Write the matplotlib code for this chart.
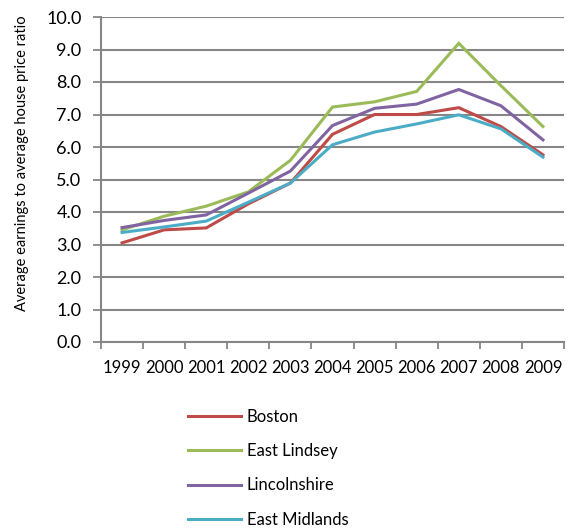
import matplotlib
matplotlib.use("Agg")
import matplotlib.pyplot as plt
from matplotlib.ticker import FixedLocator, NullFormatter

plt.rcParams['font.family'] = ['Lato', 'DejaVu Sans']

years = ["1999", "2000", "2001", "2002", "2003", "2004",
         "2005", "2006", "2007", "2008", "2009"]
boston = [3.05, 3.45, 3.51, 4.25, 4.89, 6.39, 7.00, 7.00, 7.21, 6.63, 5.76]
east_lindsey = [3.45, 3.87, 4.18, 4.62, 5.59, 7.23, 7.39, 7.71, 9.19, 7.89, 6.63]
lincolnshire = [3.52, 3.74, 3.91, 4.58, 5.26, 6.66, 7.19, 7.32, 7.77, 7.27, 6.22]
east_midlands = [3.37, 3.54, 3.72, 4.30, 4.89, 6.07, 6.46, 6.71, 6.99, 6.56, 5.69]

series = [
    ("Boston", boston, "#BE4B48"),
    ("East Lindsey", east_lindsey, "#9BBB59"),
    ("Lincolnshire", lincolnshire, "#8064A2"),
    ("East Midlands", east_midlands, "#4BACC6"),
]

W, H = 568, 530
fig = plt.figure(figsize=(W / 100, H / 100), dpi=100)
ax = fig.add_axes([101 / W, 1 - 342 / H, (564 - 101) / W, (342 - 17) / H])

x = list(range(len(years)))
handles = []
for name, vals, col in series:
    h, = ax.plot(x, vals, color=col, lw=2.2, label=name, solid_joinstyle='miter')
    handles.append(h)

grey = "#868686"
ax.set_ylim(0, 10)
ax.set_yticks([i for i in range(11)])
ax.set_yticklabels([f"{i:.1f}" for i in range(11)])
ax.yaxis.grid(True, color=grey, lw=1.5)
ax.set_axisbelow(True)

ax.set_xlim(-0.5, len(years) - 0.5)
ax.set_xticks(x)
ax.set_xticklabels(years)
ax.xaxis.set_minor_locator(FixedLocator([i - 0.5 for i in range(len(years) + 1)]))
ax.xaxis.set_minor_formatter(NullFormatter())
ax.tick_params(axis='x', which='major', length=0, pad=13, labelsize=12, colors='black')
ax.tick_params(axis='x', which='minor', length=5, width=1.3, color=grey)
ax.tick_params(axis='y', length=6, width=1.3, color=grey, labelsize=13, pad=8)

for s in ("top", "right"):
    ax.spines[s].set_visible(False)
for s in ("left", "bottom"):
    ax.spines[s].set_color(grey)
    ax.spines[s].set_linewidth(1.5)

fig.text(22 / W, 1 - 163 / H, "Average earnings to average house price ratio",
         rotation=90, ha="center", va="center", fontsize=10.5)

fig.legend(handles=handles, loc="upper left", bbox_to_anchor=(181 / W, 1 - 402 / H),
           frameon=False, fontsize=12, handlelength=3.2, handletextpad=0.36,
           labelspacing=1.1, borderaxespad=0)

fig.savefig("out.png", dpi=100)
